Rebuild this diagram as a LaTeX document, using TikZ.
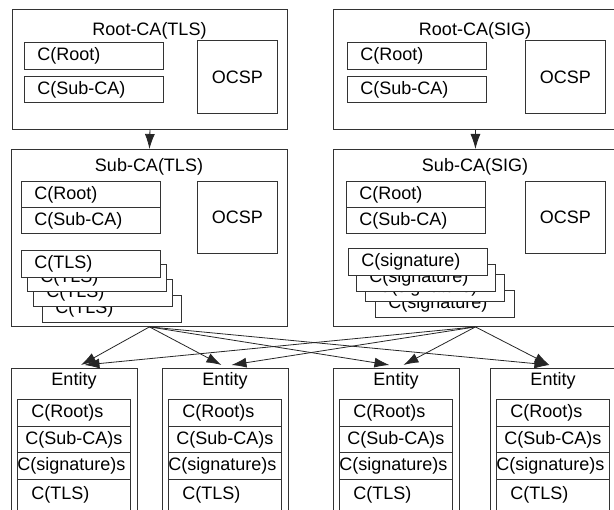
\documentclass[tikz,border=0pt]{standalone}
\usepackage{fontspec}
\setmainfont{Liberation Sans}
\usetikzlibrary{arrows.meta}
\begin{document}
\begin{tikzpicture}[x=1pt,y=-1pt,
  font=\fontsize{18}{20}\selectfont,
  box/.style={draw=black!80,line width=0.9pt,fill=white,anchor=north west,inner sep=0pt},
  cert/.style={box,inner xsep=13pt,text width=113pt,minimum height=27pt,align=left},
  ocsp/.style={box,minimum width=80pt,minimum height=73pt},
  row/.style={box,text width=113pt,minimum height=26.7pt,align=left},
  arr/.style={black!85,line width=0.8pt,-{Latex[length=15pt,width=10pt]}}]
\useasboundingbox (0,0) rectangle (614,510);
\clip (0,0) rectangle (614,510);

% root CAs
\node[box,minimum width=275pt,minimum height=120pt] (rootTLS) at (12,9) {};
\node (rootTLSt) at (149.5,31) {Root-CA(TLS)};
\node[cert,minimum height=27pt] (rootTLSr) at (24,42) {C(Root)};
\node[cert,minimum height=26pt] (rootTLSs) at (24,76) {C(Sub-CA)};
\node[ocsp] (rootTLSo) at (197,40) {OCSP};

\node[box,minimum width=284pt,minimum height=120pt] (rootSIG) at (333,9) {};
\node (rootSIGt) at (475,31) {Root-CA(SIG)};
\node[cert,minimum height=27pt] (rootSIGr) at (347,42) {C(Root)};
\node[cert,minimum height=26pt] (rootSIGs) at (347,76) {C(Sub-CA)};
\node[ocsp] (rootSIGo) at (525,40) {OCSP};

% sub CAs
\node[box,minimum width=276pt,minimum height=177pt] (subTLS) at (11,149) {};
\node (subTLSt) at (149,167) {Sub-CA(TLS)};
\node[cert,minimum height=26pt] (subTLSr) at (21,181) {C(Root)};
\node[cert,minimum height=26pt] (subTLSs) at (21,207) {C(Sub-CA)};
\node[ocsp,minimum height=72pt] (subTLSo) at (197,181) {OCSP};
\foreach \n/\x/\y in {4/42/295,3/33/279,2/27/264,1/21/250}{
  \node[cert] (tls\n) at (\x,\y) {C(TLS)};
}

\node[box,minimum width=284pt,minimum height=177pt] (subSIG) at (333,149) {};
\node (subSIGt) at (475,167) {Sub-CA(SIG)};
\node[cert,minimum height=26pt] (subSIGr) at (346,181) {C(Root)};
\node[cert,minimum height=26pt] (subSIGs) at (346,207) {C(Sub-CA)};
\node[ocsp,minimum height=72pt] (subSIGo) at (525,181) {OCSP};
\foreach \n/\x/\y in {4/375/290,3/365/274,2/356/264,1/348/248}{
  \node[cert] (sig\n) at (\x,\y) {C(signature)};
}

\draw[arr] (rootTLS.south) -- (subTLS.north);
\draw[arr] (rootSIG.south) -- (subSIG.north);

% entities
\foreach \e/\x in {1/11,2/162,3/333,4/490}{
  \node[box,minimum width=126pt,minimum height=160pt] (ent\e) at (\x,368) {};
  \node (ent\e t) at (\x+63,381) {Entity};
  \node[row] (ent\e a) at (\x+6,399) {\hspace*{14pt}C(Root)s};
  \node[row] (ent\e b) at (\x+6,425.7) {\hspace*{8pt}C(Sub-CA)s};
  \node[row] (ent\e c) at (\x+6,452.4) {C(signature)s};
  \node[row,minimum height=40pt,text depth=13pt] (ent\e d) at (\x+6,479.1) {\hspace*{14pt}C(TLS)};
}

\foreach \e/\a/\b in {1/6.5/10,2/-4/6,3/-7/7,4/-4/-4}{
  \draw[arr] (subTLS.south) -- ([xshift=\a pt,yshift=3pt]ent\e.north);
  \draw[arr] (subSIG.south) -- ([xshift=\b pt,yshift=3pt]ent\e.north);
}
\end{tikzpicture}
\end{document}
